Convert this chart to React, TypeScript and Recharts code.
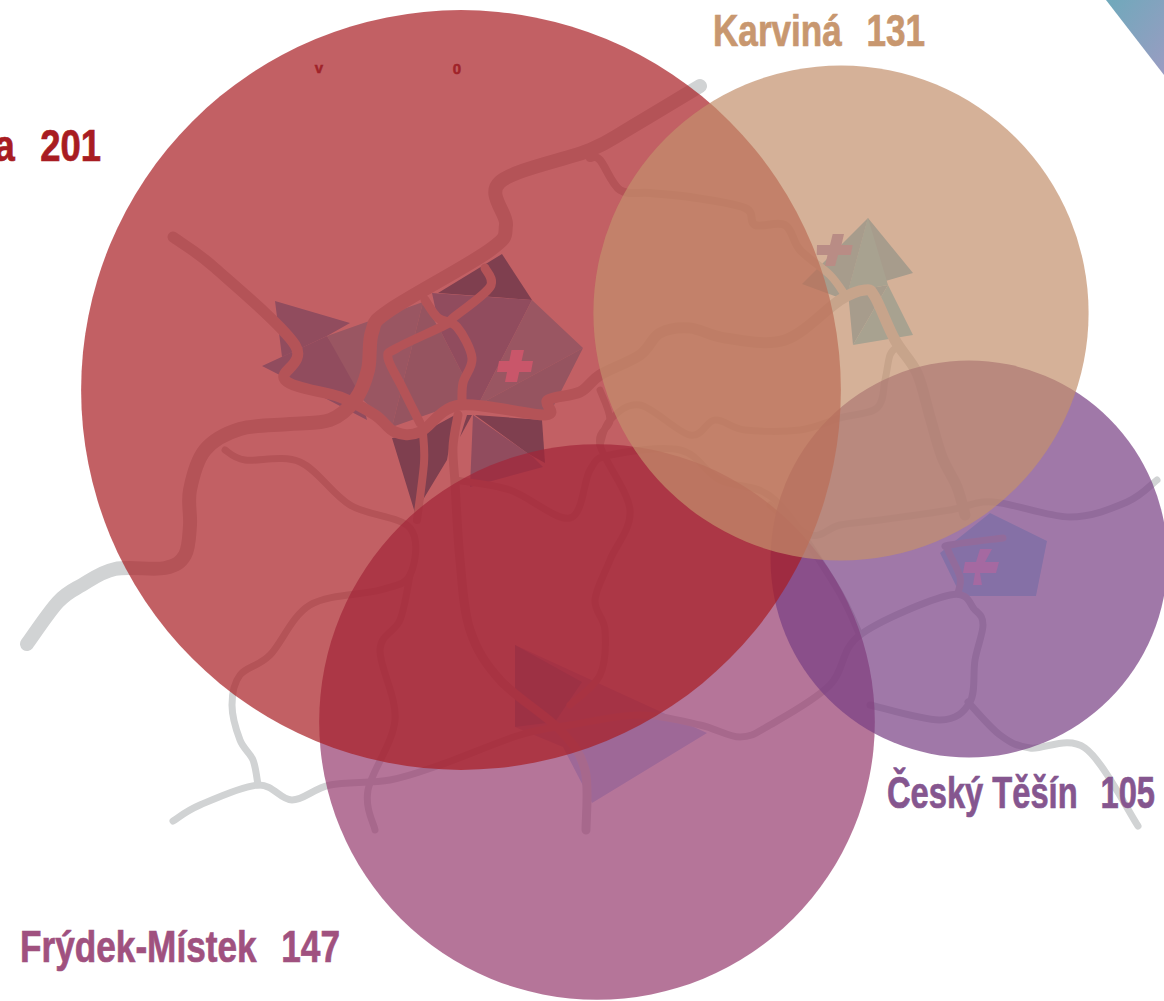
import React from "react";
import { ScatterChart, Scatter, XAxis, YAxis } from "recharts";

type Pt = [number, number];

const WIDTH = 1164;
const HEIGHT = 1001;
const RADIUS_PER_COUNT = 1.89;

// bubbles, in draw order
const cityNames = ["Frýdek-Místek", "Český Těšín", "Ostrava", "Karviná"];
const cityCounts = [147, 105, 201, 131];
const cityX = [597, 969, 461, 841];
const cityY = [722, 559, 390, 313];
const cityFill = ["#953a6d", "#773e83", "#a81c22", "#c3906c"];
const labelFill = ["#a0517f", "#85568f", "#a81c22", "#c8976f"];

// label boxes: left, width, baseline
const labelBoxes = [
  [20, 320, 962],
  [887, 268, 808],
  [-121, 222, 161],
  [713, 212, 46],
];

const roadMain: Pt[] = [[27, 644], [58, 602], [82, 585], [115, 569], [165, 568], [185, 555], [190, 525], [190, 490], [205, 450], [240, 429], [290, 424], [330, 420], [355, 400], [368, 370], [372, 332], [390, 310], [490, 250], [506, 225], [500, 182], [590, 150], [630, 128], [700, 86]];
const roadWest: Pt[] = [[173, 237], [215, 268], [295, 345], [285, 380], [340, 397], [375, 415], [395, 432], [420, 432], [460, 405], [545, 415], [548, 400], [580, 392], [600, 375], [640, 355], [660, 333], [690, 328], [725, 338], [785, 340], [840, 300], [865, 290], [875, 297], [895, 340], [917, 373], [930, 417], [942, 457], [957, 487], [965, 515]];
const roadKarvina: Pt[] = [[590, 158], [600, 160], [620, 190], [650, 193], [690, 197], [745, 208], [755, 225], [785, 225], [800, 250], [830, 275], [845, 295]];
const roadLoop: Pt[] = [[485, 268], [490, 287], [453, 318], [445, 325], [397, 348], [388, 358], [402, 387], [420, 423]];
const roadInner: Pt[] = [[425, 300], [438, 318], [457, 327], [472, 358], [463, 383], [462, 403]];
const roadSouthA: Pt[] = [[423, 433], [424, 463], [417, 520]];
const roadSouthB: Pt[] = [[458, 415], [453, 447], [455, 483], [460, 560], [470, 630], [500, 680], [560, 730], [585, 770], [586, 830]];
const roadSouthwest: Pt[] = [[225, 450], [245, 460], [300, 462], [350, 505], [410, 528], [410, 575], [380, 590], [310, 605], [270, 655], [240, 675], [232, 705], [240, 740], [253, 760], [258, 785]];
const roadLow: Pt[] = [[173, 821], [200, 805], [258, 785], [292, 800], [330, 785], [390, 780], [440, 765], [520, 735], [570, 725], [640, 715], [700, 725], [740, 737], [770, 725], [830, 685], [860, 635], [950, 595], [975, 610], [983, 625], [975, 660], [970, 702], [940, 720], [870, 705]];
const roadTesin: Pt[] = [[968, 702], [1000, 735], [1030, 748], [1085, 748], [1138, 826]];
const roadBorder: Pt[] = [[770, 505], [810, 535], [840, 525], [880, 520], [950, 510], [993, 502], [1070, 517], [1127, 502], [1157, 480]];
const roadSpur: Pt[] = [[958, 593], [960, 577], [948, 550], [950, 545], [1003, 538]];
const roadEast: Pt[] = [[600, 445], [610, 420], [640, 405], [690, 435], [715, 420], [745, 430], [800, 430], [840, 418], [877, 408], [885, 380], [890, 355], [897, 347]];
const roadMid: Pt[] = [[600, 390], [610, 420], [600, 445], [630, 510], [610, 560], [595, 600], [605, 630], [600, 675], [570, 705]];
const roadCross: Pt[] = [[455, 480], [510, 490], [570, 518], [590, 470], [610, 455], [680, 450], [720, 480], [775, 500], [835, 585], [860, 635]];
const roadFrydek: Pt[] = [[410, 575], [400, 620], [380, 650], [395, 720], [368, 790], [375, 830]];

const roads: [Pt[], number][] = [
  [roadMain, 14], [roadWest, 11], [roadKarvina, 8], [roadLoop, 9], [roadInner, 9],
  [roadSouthA, 8], [roadSouthB, 9], [roadSouthwest, 7], [roadLow, 7], [roadTesin, 7],
  [roadBorder, 7], [roadSpur, 7], [roadEast, 7], [roadMid, 7], [roadCross, 7], [roadFrydek, 7],
];

const DARK = "#1f91b8";
const MID = "#5bbcec";
const SOFT = "#6cd7f0";
const LIGHT = "#79def7";

const shards: [Pt[], string][] = [
  [[[438, 293], [502, 254], [532, 300]], DARK],
  [[[275, 301], [350, 323], [327, 336], [282, 357]], MID],
  [[[262, 366], [327, 336], [357, 380], [367, 420], [315, 393]], MID],
  [[[327, 336], [423, 302], [392, 427], [363, 400]], LIGHT],
  [[[423, 302], [440, 330], [462, 373], [460, 403], [392, 427]], SOFT],
  [[[432, 293], [532, 300], [478, 405], [460, 403], [462, 373], [440, 330]], MID],
  [[[532, 300], [583, 348], [478, 405]], LIGHT],
  [[[583, 348], [550, 413], [478, 405]], SOFT],
  [[[475, 415], [542, 420], [545, 463], [527, 453]], DARK],
  [[[473, 415], [533, 457], [543, 467], [470, 487]], MID],
  [[[392, 438], [422, 433], [455, 415], [447, 460], [415, 513]], DARK],
  [[[467, 415], [472, 415], [460, 437]], DARK],
  [[[868, 218], [802, 284], [840, 298], [848, 292]], "#65b8d6"],
  [[[868, 218], [913, 273], [848, 292]], "#65b8d6"],
  [[[848, 292], [888, 285], [853, 345]], "#65b8d6"],
  [[[868, 218], [888, 285], [848, 292]], "#69cce4"],
  [[[888, 285], [913, 335], [853, 345]], "#69cce4"],
  [[[990, 513], [1047, 541], [1036, 596], [961, 596], [940, 553]], "#a5e5f8"],
  [[[515, 645], [707, 733], [592, 803], [563, 747], [515, 727]], "#b3d3f9"],
  [[[515, 645], [582, 682], [555, 722], [515, 727]], MID],
];

const corner: Pt[] = [[1106, 0], [1164, 0], [1164, 75]];

const crosses: [Pt[], string][] = [
  [[[511.5, 350], [524, 350], [521.6, 361], [533, 361], [531, 372], [519.2, 372], [517, 382], [505, 382], [507, 372], [497, 372], [499, 361], [509.3, 361]], "#c9566a"],
  [[[832.7, 234], [844, 234], [841.5, 245], [852.7, 245], [850.7, 255], [838, 255], [835, 266], [825, 266], [827.5, 255], [816.7, 255], [817, 245], [830, 245]], "#b98c85"],
  [[[980, 549], [992, 549], [985, 562], [999, 562], [996, 573], [980, 573], [982, 585], [973, 585], [975, 573], [963, 573], [965, 562], [976, 562]], "#a569a1"],
];

const tinyMarks = [{ x: 319, y: 73, mark: "v" }, { x: 457, y: 74, mark: "0" }];

const toData = (pts: Pt[]) => pts.map(([x, y]) => ({ x, y }));

// catmull-rom through the points, roads are not straight segments
function smoothPath(p: { x: number; y: number }[]) {
  let d = `M${p[0].x},${p[0].y}`;
  for (let i = 0; i < p.length - 1; i++) {
    const a = p[Math.max(i - 1, 0)];
    const b = p[i];
    const c = p[i + 1];
    const e = p[Math.min(i + 2, p.length - 1)];
    d += `C${b.x + (c.x - a.x) / 6},${b.y + (c.y - a.y) / 6} ${c.x - (e.x - b.x) / 6},${c.y - (e.y - b.y) / 6} ${c.x},${c.y}`;
  }
  return d;
}

const nothing = () => null;

const roadLine = (width: number) => (props: any) => (
  <path d={smoothPath(props.points)} fill="none" stroke="#d1d3d4" strokeWidth={width} strokeLinecap="round" strokeLinejoin="round" />
);

const polygonLine = (fill: string) => (props: any) => (
  <polygon points={props.points.map((p: any) => `${p.x},${p.y}`).join(" ")} fill={fill} />
);

const bubbleData = cityNames.map((name, i) => ({ name, value: cityCounts[i], x: cityX[i], y: cityY[i], fill: cityFill[i] }));
const labelData = cityNames.map((name, i) => ({ name, value: cityCounts[i], x: 0, y: 0, i }));

const FONT = "'Liberation Sans Narrow', 'Liberation Sans', sans-serif";

const CityLabel = (props: any) => {
  const { name, value, i } = props.payload;
  const [left, width, base] = labelBoxes[i];
  return (
    <text
      x={left}
      y={base}
      textLength={width}
      lengthAdjust="spacingAndGlyphs"
      fontFamily={FONT}
      fontWeight={700}
      fontSize={44}
      fill={labelFill[i]}
      stroke={labelFill[i]}
      strokeWidth={0.7}
    >
      {`${name}\u2002\u2009${value}`}
    </text>
  );
};

const TinyMark = (props: any) => (
  <text x={props.cx} y={props.cy} textAnchor="middle" fontFamily={FONT} fontWeight={700} fontSize={15} fill="#a0232a" stroke="#a0232a" strokeWidth={0.5}>
    {props.payload.mark}
  </text>
);

export default function App() {
  return (
    <div style={{ position: "absolute", left: 0, top: 0, width: WIDTH, height: HEIGHT, background: "#fff" }}>
      <ScatterChart width={WIDTH} height={HEIGHT} margin={{ top: 0, right: 0, bottom: 0, left: 0 }}>
        <defs>
          <linearGradient id="cornerFill" x1="0" y1="0" x2="1" y2="1">
            <stop offset="0%" stopColor="#6fa9bb" />
            <stop offset="100%" stopColor="#9a9cc2" />
          </linearGradient>
        </defs>
        <XAxis type="number" dataKey="x" domain={[0, WIDTH]} hide />
        <YAxis type="number" dataKey="y" domain={[0, HEIGHT]} reversed hide />
        <Scatter data={toData(corner)} shape={nothing} line={polygonLine("url(#cornerFill)")} isAnimationActive={false} />
        {shards.map(([pts, fill], i) => (
          <Scatter key={`shard${i}`} data={toData(pts)} shape={nothing} line={polygonLine(fill)} isAnimationActive={false} />
        ))}
        {roads.map(([pts, width], i) => (
          <Scatter key={`road${i}`} data={toData(pts)} shape={nothing} line={roadLine(width)} isAnimationActive={false} />
        ))}
        <Scatter
          data={bubbleData}
          isAnimationActive={false}
          shape={(p: any) => <circle cx={p.cx} cy={p.cy} r={p.payload.value * RADIUS_PER_COUNT} fill={p.payload.fill} fillOpacity={0.7} />}
        />
        {crosses.map(([pts, fill], i) => (
          <Scatter key={`cross${i}`} data={toData(pts)} shape={nothing} line={polygonLine(fill)} isAnimationActive={false} />
        ))}
        <Scatter data={tinyMarks} shape={TinyMark} isAnimationActive={false} />
        <Scatter data={labelData} shape={CityLabel} isAnimationActive={false} />
      </ScatterChart>
    </div>
  );
}
